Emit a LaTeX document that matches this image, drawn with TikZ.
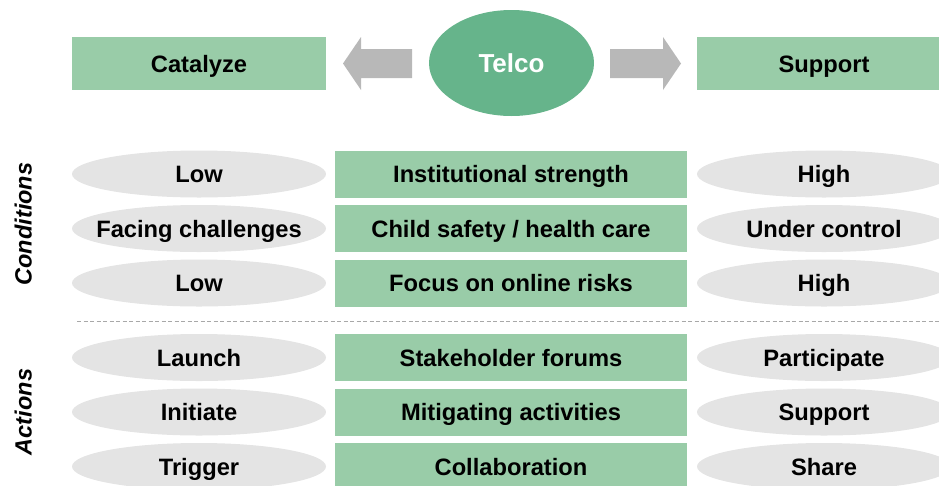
\documentclass[tikz,border=0pt]{standalone}
\usepackage{fontspec}
\setmainfont{Liberation Sans}
\usetikzlibrary{shapes.geometric}
\definecolor{boxgreen}{HTML}{99CCA8}
\definecolor{telcogreen}{HTML}{66B48B}
\definecolor{ovalgray}{HTML}{E4E4E4}
\definecolor{arrowgray}{HTML}{B8B8B8}
\definecolor{dashgray}{HTML}{A8A8A8}
\newcommand\zw[1]{\makebox[0pt]{#1}}
\begin{document}
\begin{tikzpicture}[x=1pt,y=-1pt,
  every node/.style={font=\fontsize{23.7}{28}\selectfont\bfseries, inner sep=0pt, text height=17pt, text depth=0pt},
  midbox/.style={rectangle, fill=boxgreen, minimum width=352pt, minimum height=47pt},
  topbox/.style={rectangle, fill=boxgreen, minimum width=254pt, minimum height=53pt},
  oval/.style={ellipse, fill=ovalgray, minimum width=254pt, minimum height=47pt},
  telco/.style={ellipse, fill=telcogreen, text=white, minimum width=165pt, minimum height=106pt,
    font=\fontsize{26}{30}\selectfont\bfseries, text height=18.6pt},
  sidelabel/.style={rotate=90, font=\fontsize{23.5}{28}\selectfont\bfseries\itshape},
  blockarrow/.style={fill=arrowgray},
  sep/.style={dashgray, line width=1pt, dash pattern=on 4pt off 2.5pt}
]
\useasboundingbox (0,0) rectangle (939,485);
\clip (0,0) rectangle (939,485);

% top row
\node[topbox] (catalyze) at (199,63.5) {Catalyze};
\node[topbox] (support) at (824,63.5) {Support};
\node[telco] (telco) at (511.5,63) {Telco};
\fill[blockarrow] (343,63.5) -- (361,37) -- (361,49) -- (412,49) -- (412,78) -- (361,78) -- (361,90) -- cycle;
\fill[blockarrow] (681,63.5) -- (663,37) -- (663,49) -- (610,49) -- (610,78) -- (663,78) -- (663,90) -- cycle;

% side labels
\node[sidelabel] (conditions) at (23,224) {Conditions};
\node[sidelabel] (actions) at (23,412) {Actions};

% conditions
\node[oval] (l1) at (199,174) {\zw{Low}};
\node[midbox] (m1) at (511,174) {Institutional strength};
\node[oval] (r1) at (824,174) {\zw{High}};

\node[oval] (l2) at (199,228.5) {\zw{Facing challenges}};
\node[midbox] (m2) at (511,228.5) {Child safety / health care};
\node[oval] (r2) at (824,228.5) {\zw{Under control}};

\node[oval] (l3) at (199,283) {\zw{Low}};
\node[midbox] (m3) at (511,283) {Focus on online risks};
\node[oval] (r3) at (824,283) {\zw{High}};

% separator
\coordinate (sepL) at (77,321);
\coordinate (sepR) at (939,321);
\draw[sep] (sepL) -- (sepR);

% actions
\node[oval] (l4) at (199,357.5) {\zw{Launch}};
\node[midbox] (m4) at (511,357.5) {Stakeholder forums};
\node[oval] (r4) at (824,357.5) {\zw{Participate}};

\node[oval] (l5) at (199,412) {\zw{Initiate}};
\node[midbox] (m5) at (511,412) {Mitigating activities};
\node[oval] (r5) at (824,412) {\zw{Support}};

\node[oval] (l6) at (199,466.5) {\zw{Trigger}};
\node[midbox] (m6) at (511,466.5) {Collaboration};
\node[oval] (r6) at (824,466.5) {\zw{Share}};
\end{tikzpicture}
\end{document}
